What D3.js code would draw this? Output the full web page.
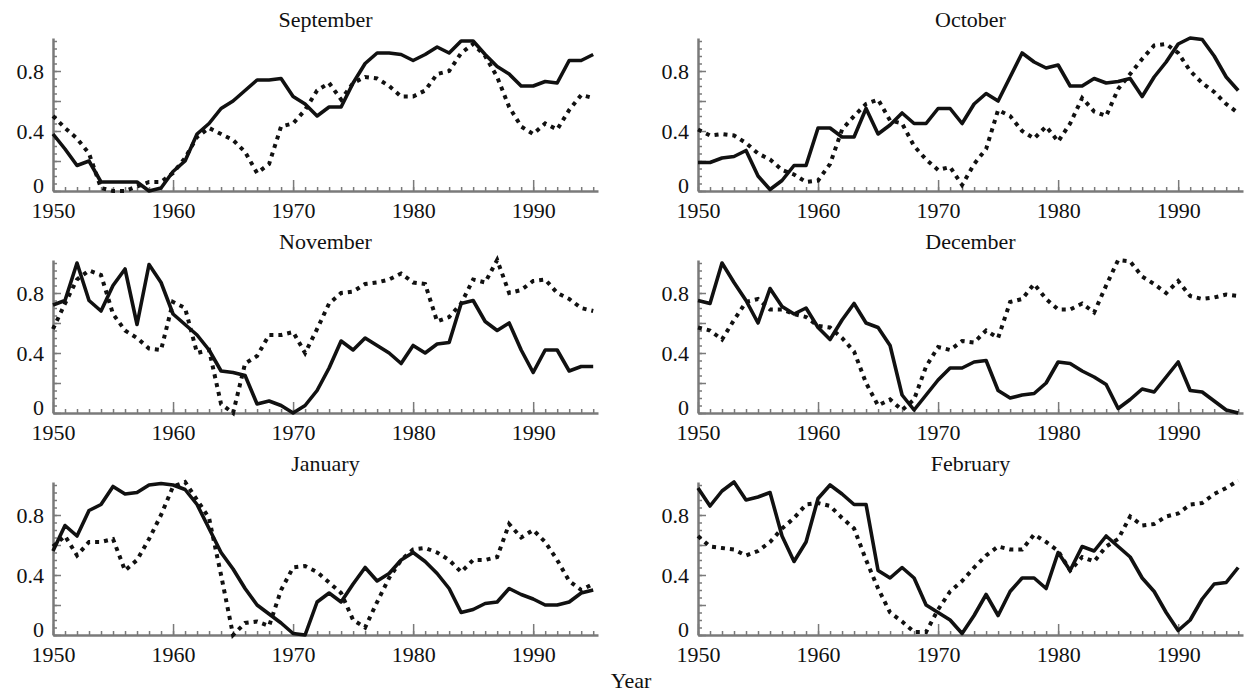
<!DOCTYPE html>
<html>
<head>
<meta charset="utf-8">
<script src="https://cdn.jsdelivr.net/npm/d3@7"></script>
<style>
  html, body { margin: 0; padding: 0; background: #fff; }
  svg { display: block; }
  text { font-family: "Liberation Serif", "Times New Roman", serif; fill: #111; }
  .axis path.domain { stroke: #7a7a7a; stroke-width: 2.5; }
  .axis line { stroke: #7a7a7a; stroke-width: 1.5; }
  .axis text { font-size: 22px; }
</style>
</head>
<body>
<div id="chart"></div>
<script>
const years = d3.range(1950, 1996);
const months = ["September", "October", "November", "December", "January", "February"];
const xTicks = [1950, 1960, 1970, 1980, 1990];
const yTicks = [0, 0.4, 0.8];
const yMidTicks = [0.2, 0.6];

// solid line
const sepSolid = [.38,.28,.17,.2,.06,.06,.06,.06,0,.02, .13,.2,.38,.45,.55,.6,.67,.74,.74,.75, .63,.58,.5,.56,.56,.72,.85,.92,.92,.91, .87,.91,.96,.92,1,1,.91,.83,.78,.7, .7,.73,.72,.87,.87,.91];
const octSolid = [.19,.19,.22,.23,.27,.1,.01,.07,.17,.17, .42,.42,.36,.36,.55,.38,.44,.52,.45,.45, .55,.55,.45,.58,.65,.6,.76,.92,.86,.82, .84,.7,.7,.75,.72,.73,.75,.63,.76,.86, .98,1.02,1.01,.9,.76,.67];
const novSolid = [.72,.75,1,.75,.68,.85,.96,.59,.99,.87, .66,.59,.52,.42,.28,.27,.25,.06,.08,.05, 0,.05,.15,.3,.48,.42,.5,.45,.4,.33, .45,.4,.46,.47,.73,.75,.61,.55,.6,.42, .27,.42,.42,.28,.31,.31];
const decSolid = [.75,.73,1,.87,.75,.6,.83,.71,.66,.7, .57,.49,.62,.73,.6,.57,.45,.12,.02,.12, .22,.3,.3,.34,.35,.15,.1,.12,.13,.2, .34,.33,.28,.24,.19,.03,.09,.16,.14,.24, .34,.15,.14,.08,.02,0];
const janSolid = [.56,.73,.66,.83,.87,.99,.94,.95,1,1.01, 1,.97,.87,.71,.55,.44,.31,.2,.14,.08, .01,0,.22,.28,.22,.34,.45,.36,.41,.5, .55,.49,.41,.31,.15,.17,.21,.22,.31,.27, .24,.2,.2,.22,.28,.3];
const febSolid = [.98,.86,.96,1.02,.9,.92,.95,.66,.49,.62, .91,1,.94,.87,.87,.43,.38,.45,.38,.2, .15,.1,.01,.13,.27,.13,.29,.38,.38,.31, .55,.43,.59,.56,.66,.59,.52,.38,.29,.15, .03,.1,.24,.34,.35,.45];

// dotted line
const sepDotted = [.5,.42,.35,.25,.02,0,0,.03,.06,.06, .12,.22,.36,.42,.38,.34,.26,.12,.18,.43, .45,.54,.67,.72,.61,.72,.76,.75,.7,.63, .63,.67,.78,.8,.92,.98,.9,.76,.56,.43, .38,.45,.41,.54,.64,.62];
const octDotted = [.41,.37,.38,.37,.32,.25,.21,.14,.11,.06, .07,.18,.41,.5,.58,.61,.47,.45,.3,.21, .14,.16,.04,.18,.28,.54,.5,.4,.35,.43, .33,.45,.62,.53,.5,.68,.78,.88,.97,.98, .92,.8,.72,.66,.58,.52];
const novDotted = [.56,.73,.89,.95,.92,.66,.55,.5,.43,.42, .74,.7,.4,.42,.06,0,.33,.38,.52,.52, .54,.4,.56,.73,.8,.81,.86,.87,.89,.93, .87,.86,.61,.64,.73,.89,.87,1.02,.8,.82, .88,.89,.8,.76,.7,.68];
const decDotted = [.57,.55,.49,.62,.74,.76,.69,.69,.66,.64, .58,.57,.5,.41,.2,.05,.09,.02,.09,.31, .44,.42,.48,.47,.55,.5,.74,.76,.86,.76, .69,.69,.73,.67,.85,1.02,1.01,.91,.86,.8, .88,.78,.76,.77,.79,.78];
const janDotted = [.59,.66,.53,.62,.62,.64,.43,.5,.64,.8, .99,1.02,.9,.78,.4,0,.08,.09,.06,.3, .45,.46,.42,.35,.28,.1,.05,.22,.38,.5, .57,.58,.55,.5,.42,.5,.5,.52,.74,.65, .7,.62,.5,.36,.3,.34];
const febDotted = [.66,.59,.58,.57,.53,.56,.62,.71,.78,.87, .88,.86,.78,.71,.5,.31,.15,.09,.02,.02, .17,.29,.36,.45,.53,.59,.57,.57,.67,.62, .56,.43,.52,.49,.59,.64,.79,.73,.74,.79, .81,.87,.88,.94,.98,1.03];

const solidSeries = [sepSolid, octSolid, novSolid, decSolid, janSolid, febSolid];
const dottedSeries = [sepDotted, octDotted, novDotted, decDotted, janDotted, febDotted];

const width = 1249, height = 695;
const svg = d3.select("#chart").append("svg").attr("width", width).attr("height", height);

const panelW = 545, colStep = 645, rowStep = 222;
const left0 = 53, base0 = 191;

months.forEach((name, i) => {
  const col = i % 2, row = Math.floor(i / 2);
  const left = left0 + col * colStep;
  const base = base0 + row * rowStep;
  const x = d3.scaleLinear().domain([1950, 1995.4]).range([left, left + panelW]);
  const y = d3.scaleLinear().domain([0, 1.02]).range([base, base - 153]);

  const g = svg.append("g");

  g.append("text")
    .attr("x", left + panelW / 2).attr("y", base - 164)
    .attr("text-anchor", "middle").attr("font-size", 22)
    .text(name);

  // x axis: minor, major
  g.append("g").attr("class", "axis").attr("transform", `translate(0,${base})`)
    .call(d3.axisBottom(x).tickValues(years).tickSizeInner(-4).tickSizeOuter(0).tickFormat(""));
  g.append("g").attr("class", "axis").attr("transform", `translate(0,${base})`)
    .call(d3.axisBottom(x).tickValues(xTicks).tickSizeInner(-11).tickSizeOuter(0).tickPadding(11).tickFormat(d3.format("d")))
    .call((a) => a.select(".domain").remove());

  // y axis: minor, mid, major
  g.append("g").attr("class", "axis").attr("transform", `translate(${left},0)`)
    .call(d3.axisLeft(y).tickValues(d3.range(0, 21).map((k) => k * 0.05)).tickSizeInner(-4).tickSizeOuter(0).tickFormat(""))
    .call((a) => a.select(".domain").attr("stroke-width", 2));
  g.append("g").attr("class", "axis").attr("transform", `translate(${left},0)`)
    .call(d3.axisLeft(y).tickValues(yMidTicks).tickSizeInner(-8).tickSizeOuter(0).tickFormat(""))
    .call((a) => a.select(".domain").remove());
  g.append("g").attr("class", "axis").attr("transform", `translate(${left},0)`)
    .call(d3.axisLeft(y).tickValues(yTicks).tickSizeInner(-8).tickSizeOuter(0).tickPadding(9).tickFormat((d) => (d === 0 ? "0" : d3.format(".1f")(d))))
    .call((a) => a.select(".domain").remove())
    .call((a) => a.selectAll(".tick").filter((d) => d === 0).select("text").attr("dy", "0.05em"));

  const line = d3.line().x((d, k) => x(years[k])).y((d) => y(d));

  g.append("path").datum(dottedSeries[i])
    .attr("fill", "none").attr("stroke", "#111").attr("stroke-width", 4)
    .attr("stroke-dasharray", "4,5").attr("d", line);
  g.append("path").datum(solidSeries[i])
    .attr("fill", "none").attr("stroke", "#111").attr("stroke-width", 3.6)
    .attr("stroke-linejoin", "round").attr("d", line);
});

svg.append("text")
  .attr("x", 631).attr("y", 688)
  .attr("text-anchor", "middle").attr("font-size", 22)
  .text("Year");
</script>
</body>
</html>
